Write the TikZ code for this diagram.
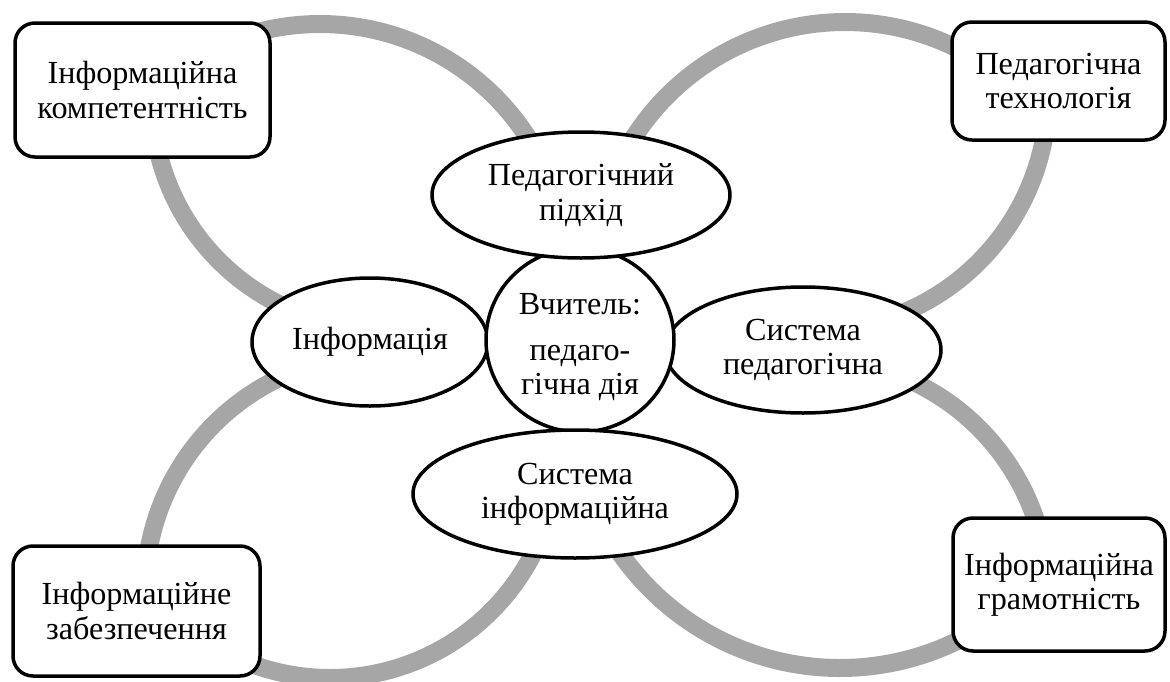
\documentclass[tikz,border=0pt]{standalone}
\usepackage{fontspec}
\setmainfont{Liberation Serif}
\usetikzlibrary{shapes.geometric}
\definecolor{ringgray}{RGB}{166,166,166}
\newcommand\pxu{0.2mm}

\begin{document}
\begin{tikzpicture}[x=0.2mm,y=-0.2mm,
  ring/.style={draw=ringgray,line width=18*\pxu},
  txt/.style={align=center,inner sep=0pt,font=\fontsize{18.3}{19.5}\selectfont},
  box/.style={txt,draw,fill=white,line width=3.5*\pxu,rounded corners=20*\pxu},
  oval/.style={txt,ellipse,draw,fill=white,line width=3.5*\pxu}]
\useasboundingbox (0,0) rectangle (1170,682);

% gray petals, two arcs each, ends hidden under the white shapes
\draw[ring] (320,271) ++(-130:247) arc[start angle=-130,end angle=-18,radius=247];
\draw[ring] (381,99) ++(178:229) arc[start angle=178,end angle=105,radius=229];
\draw[ring] (845,273) ++(205:251) arc[start angle=205,end angle=308,radius=251];
\draw[ring] (812,95) ++(0:236) arc[start angle=0,end angle=72,radius=236];
\draw[ring] (381,591) ++(-105:236) arc[start angle=-105,end angle=-178,radius=236];
\draw[ring] (330,450) ++(135:228) arc[start angle=135,end angle=20,radius=228];
\draw[ring] (812,595) ++(-72:236) arc[start angle=-72,end angle=0,radius=236];
\draw[ring] (840,400) ++(50:268) arc[start angle=50,end angle=150,radius=268];

% corner boxes
\node[box,minimum width=255*\pxu,minimum height=134*\pxu] (infkomp) at (142.5,90) {Інформаційна\\компетентність};
\node[box,minimum width=213*\pxu,minimum height=118*\pxu] (pedtech) at (1058.5,81) {Педагогічна\\технологія};
\node[box,minimum width=247*\pxu,minimum height=130*\pxu] (infzab) at (136.5,611) {Інформаційне\\забезпечення};
\node[box,minimum width=212*\pxu,minimum height=133*\pxu] (infgram) at (1059,584.5) {Інформаційна\\грамотність};

% central ovals
\node[oval,minimum width=236*\pxu,minimum height=128*\pxu] (info) at (370,342) {Інформація};
\node[oval,minimum width=276*\pxu,minimum height=126*\pxu] (syspdg) at (803,350) {Система\\педагогічна};
\node[oval,minimum width=188*\pxu,minimum height=184*\pxu] (teacher) at (580,340) {};
\node[txt] (teachertxt) at ([yshift=-1.4mm]teacher.center) {Вчитель:\\[7pt]педаго-\\гічна дія};
\node[oval,minimum width=298*\pxu,minimum height=126*\pxu] (pedpid) at (581,195) {Педагогічний\\підхід};
\node[oval,minimum width=324*\pxu,minimum height=128*\pxu] (sysinf) at (575,494) {Система\\інформаційна};
\end{tikzpicture}
\end{document}
